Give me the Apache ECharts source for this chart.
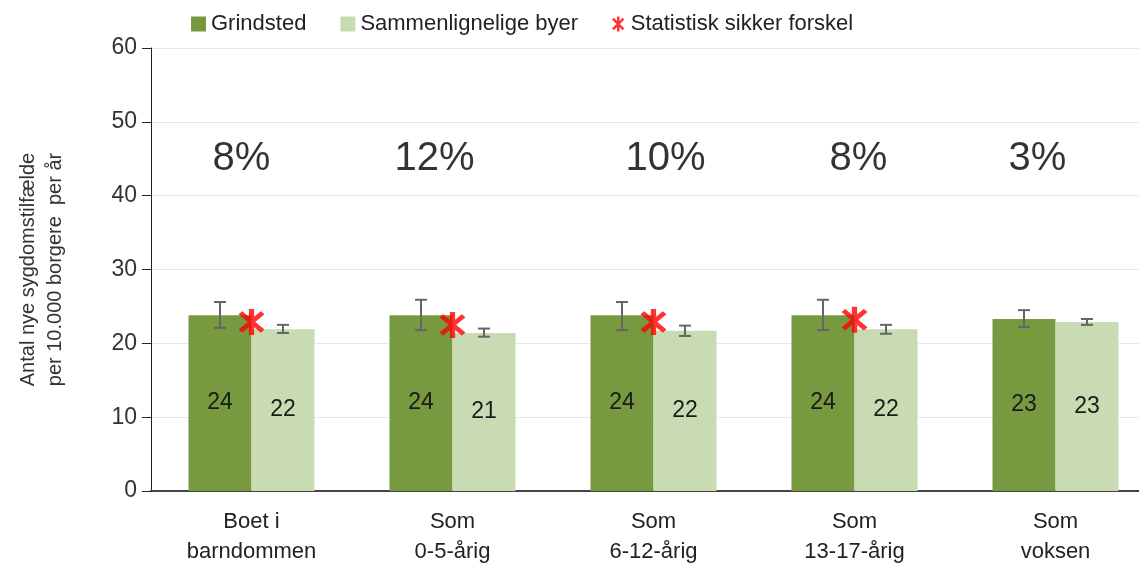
<!DOCTYPE html>
<html>
<head>
<meta charset="utf-8">
<script src="https://cdn.jsdelivr.net/npm/echarts@6/dist/echarts.min.js"></script>
<style>
  html, body { margin: 0; padding: 0; background: #fff; overflow: hidden; }
  #content { width: 1139px; height: 564px; }
</style>
</head>
<body>
<div id="content"></div>
<script>
  // categories and values
  let categories = ['Boet i\nbarndommen', 'Som\n0-5-årig', 'Som\n6-12-årig', 'Som\n13-17-årig', 'Som\nvoksen'];
  let grindsted = [23.8, 23.8, 23.8, 23.8, 23.3];
  let grindstedLow = [22.1, 21.8, 21.8, 21.8, 22.2];
  let grindstedHigh = [25.6, 25.9, 25.6, 25.9, 24.5];
  let byer = [21.9, 21.4, 21.7, 21.9, 22.9];
  let byerLow = [21.4, 20.9, 21.0, 21.3, 22.5];
  let byerHigh = [22.5, 22.0, 22.4, 22.5, 23.3];
  let signif = [22.9, 22.5, 22.9, 23.2, null];
  let pctLabels = ['8%', '12%', '10%', '8%', '3%'];
  let yTicks = [0, 10, 20, 30, 40, 50, 60];

  let font = "'Liberation Sans', Arial, sans-serif";
  let darkGreen = '#77993f';
  let lightGreen = '#c9dbb2';
  let barW = 63;
  let pctLevel = 45;
  let pctShift = [-10, -18, 12, 4, -18];
  let star = 'path://M-2,-12 L2,-12 L2,12 L-2,12 Z M-9.9,-7.07 L-7.07,-9.9 L9.9,7.07 L7.07,9.9 Z M-7.07,9.9 L-9.9,7.07 L7.07,-9.9 L9.9,-7.07 Z';

  function errData(low, high) {
    return low.map((l, i) => [i, l, high[i]]);
  }

  function errRender(shift) {
    return function (params, api) {
      let lo = api.coord([api.value(0), api.value(1)]);
      let hi = api.coord([api.value(0), api.value(2)]);
      let x = lo[0] + shift;
      let cap = 6;
      let st = { stroke: '#666', lineWidth: 2 };
      return {
        type: 'group',
        children: [
          { type: 'line', shape: { x1: x, y1: hi[1], x2: x, y2: lo[1] }, style: st },
          { type: 'line', shape: { x1: x - cap, y1: hi[1], x2: x + cap, y2: hi[1] }, style: st },
          { type: 'line', shape: { x1: x - cap, y1: lo[1], x2: x + cap, y2: lo[1] }, style: st }
        ]
      };
    };
  }

  let chart = echarts.init(document.getElementById('content'));
  chart.setOption({
    animation: false,
    textStyle: { fontFamily: font },
    legend: {
      top: 8,
      left: 186,
      itemGap: 34,
      itemWidth: 15,
      itemHeight: 15,
      textStyle: { fontSize: 22, color: '#222', fontFamily: font },
      data: [
        { name: 'Grindsted', icon: 'rect' },
        { name: 'Sammenlignelige byer', icon: 'rect' },
        { name: 'Statistisk sikker forskel', icon: star, itemStyle: { color: '#ff0000' } }
      ]
    },
    grid: { left: 151, right: -17, top: 48, bottom: 73, containLabel: false, outerBoundsMode: 'none' },
    xAxis: {
      type: 'category',
      data: categories,
      axisLine: { lineStyle: { color: '#444', width: 2 } },
      axisTick: { show: false },
      axisLabel: { fontSize: 22, color: '#222', lineHeight: 30, margin: 16, fontFamily: font }
    },
    yAxis: {
      type: 'value',
      min: yTicks[0],
      max: yTicks[yTicks.length - 1],
      interval: 10,
      name: 'Antal nye sygdomstilfælde\nper 10.000 borgere  per år',
      nameLocation: 'middle',
      nameRotate: 90,
      nameGap: 82,
      nameTextStyle: { fontSize: 20, color: '#333', lineHeight: 27, fontFamily: font },
      axisLine: { show: true, lineStyle: { color: '#222', width: 1 } },
      axisTick: { show: true, length: 9, lineStyle: { color: '#222' } },
      axisLabel: { fontSize: 23, color: '#333', margin: 14, fontFamily: font },
      splitLine: { lineStyle: { color: '#e8e8e8' } }
    },
    series: [
      {
        name: 'Grindsted',
        type: 'bar',
        data: grindsted,
        barWidth: barW,
        barGap: '0%',
        itemStyle: { color: darkGreen },
        label: {
          show: true, position: 'inside', fontSize: 23, color: '#1a1a1a', fontFamily: font,
          formatter: p => Math.round(p.value)
        }
      },
      {
        name: 'Sammenlignelige byer',
        type: 'bar',
        data: byer,
        barWidth: barW,
        barGap: '0%',
        itemStyle: { color: lightGreen },
        label: {
          show: true, position: 'inside', fontSize: 23, color: '#1a1a1a', fontFamily: font,
          formatter: p => Math.round(p.value)
        }
      },
      {
        type: 'custom',
        data: errData(grindstedLow, grindstedHigh),
        renderItem: errRender(-barW / 2),
        z: 5
      },
      {
        type: 'custom',
        data: errData(byerLow, byerHigh),
        renderItem: errRender(barW / 2),
        z: 5
      },
      {
        name: 'Statistisk sikker forskel',
        type: 'scatter',
        data: signif,
        symbol: star,
        symbolSize: [26, 26],
        itemStyle: { color: '#ff0000' },
        z: 6
      },
      {
        type: 'scatter',
        data: pctLabels.map((t, i) => ({
          value: pctLevel,
          label: { offset: [pctShift[i], 0] }
        })),
        symbolSize: 1,
        itemStyle: { color: 'rgba(0,0,0,0)' },
        silent: true,
        label: {
          show: true,
          position: 'inside',
          fontSize: 40,
          color: '#000',
          fontFamily: font,
          formatter: p => pctLabels[p.dataIndex]
        }
      }
    ]
  });
</script>
</body>
</html>
